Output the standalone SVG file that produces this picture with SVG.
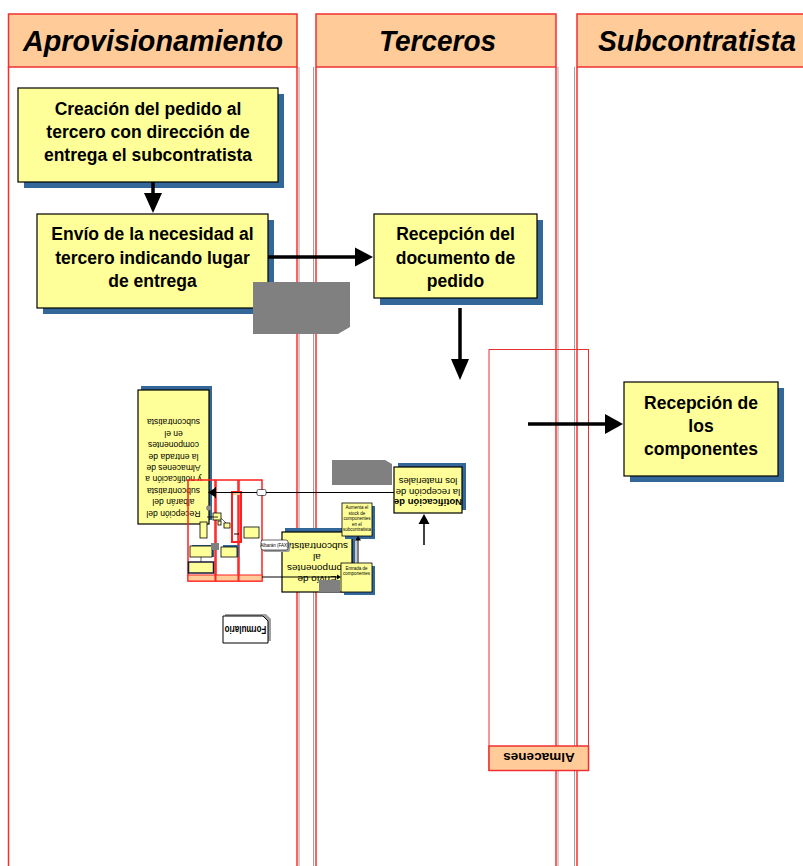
<svg xmlns="http://www.w3.org/2000/svg" width="803" height="866" viewBox="0 0 803 866">
  <style>
    .ln { stroke:#ff2b2b; stroke-width:1.5; fill:none }
    .lsh { stroke:#a0a0a0; stroke-width:1; fill:none }
    .hdr { fill:#ffcc99; stroke:#f03030; stroke-width:1.5 }
    .title { font-family:"Liberation Sans", Arial, sans-serif; font-weight:bold; font-style:italic; font-size:29px; text-anchor:middle; fill:#000 }
    .box { fill:#ffff99; stroke:#000; stroke-width:1.2 }
    .sh { fill:#336699 }
    .t { font-family:"Liberation Sans", Arial, sans-serif; font-weight:bold; font-size:17.5px; text-anchor:middle; fill:#000 }
    .s { font-family:"Liberation Sans", Arial, sans-serif; font-size:9.5px; text-anchor:middle; fill:#000 }
    .tiny { font-family:"Liberation Sans", Arial, sans-serif; font-size:4.5px; text-anchor:middle; fill:#000 }
    .gray { fill:#808080 }
    .mini { fill:none; stroke:#ff2020; stroke-width:1.5 }
    .minihdr { fill:#ffcc99; stroke:#ff2020; stroke-width:1 }
    .sbox { fill:#ffff99; stroke:#000; stroke-width:0.8 }
    .wire { stroke:#000; fill:none }
  </style>

  <!-- swim lanes -->
  <g id="lane-aprovisionamiento">
    <line class="lsh" x1="299" y1="67" x2="299" y2="866"/>
    <line class="ln" x1="8.5" y1="67" x2="8.5" y2="866"/>
    <line class="ln" x1="297" y1="67" x2="297" y2="866"/>
    <rect class="hdr" x="8.5" y="14" width="288.5" height="53"/>
    <text class="title" x="153" y="51" textLength="260" lengthAdjust="spacingAndGlyphs">Aprovisionamiento</text>
  </g>
  <g id="lane-terceros">
    <line class="lsh" x1="313.5" y1="67" x2="313.5" y2="866"/>
    <line class="lsh" x1="558" y1="67" x2="558" y2="866"/>
    <line class="ln" x1="316" y1="67" x2="316" y2="866"/>
    <line class="ln" x1="556" y1="67" x2="556" y2="866"/>
    <rect class="hdr" x="316" y="14" width="240" height="53"/>
    <text class="title" x="437.5" y="51" textLength="117" lengthAdjust="spacingAndGlyphs">Terceros</text>
  </g>
  <g id="lane-subcontratista">
    <line class="lsh" x1="574.5" y1="67" x2="574.5" y2="866"/>
    <line class="ln" x1="577" y1="67" x2="577" y2="866"/>
    <rect class="hdr" x="577" y="14" width="230" height="53"/>
    <text class="title" x="697" y="51" textLength="198" lengthAdjust="spacingAndGlyphs">Subcontratista</text>
  </g>

  <!-- Almacenes lane (flipped) -->
  <g id="lane-almacenes">
    <rect x="489" y="349.5" width="99.5" height="421" fill="none" stroke="#e83030" stroke-width="1"/>
    <rect class="hdr" x="489" y="746" width="99.5" height="24.5" stroke-width="1"/>
    <text transform="translate(539,758) rotate(180)" x="0" y="5" font-family="Liberation Sans, Arial, sans-serif" font-weight="bold" font-size="13.5" text-anchor="middle">Almacenes</text>
  </g>

  <!-- main process boxes -->
  <g id="creacion-pedido">
    <rect class="sh" x="24" y="94" width="260" height="94"/>
    <rect class="box" x="18" y="88" width="260" height="94"/>
    <text class="t" x="148" y="115">Creación del pedido al</text>
    <text class="t" x="148" y="138">tercero con dirección de</text>
    <text class="t" x="148" y="161">entrega el subcontratista</text>
  </g>
  <g id="envio-necesidad">
    <rect class="sh" x="43" y="220" width="231" height="94"/>
    <rect class="box" x="37" y="214" width="231" height="94"/>
    <text class="t" x="152.5" y="240">Envío de la necesidad al</text>
    <text class="t" x="152.5" y="264">tercero indicando lugar</text>
    <text class="t" x="152.5" y="287">de entrega</text>
  </g>
  <g id="recepcion-documento">
    <rect class="sh" x="380" y="220" width="163" height="85"/>
    <rect class="box" x="374" y="214" width="163" height="84"/>
    <text class="t" x="455.5" y="240">Recepción del</text>
    <text class="t" x="455.5" y="264">documento de</text>
    <text class="t" x="455.5" y="287">pedido</text>
  </g>
  <g id="recepcion-componentes">
    <rect class="sh" x="630" y="388" width="154" height="94"/>
    <rect class="box" x="624" y="382" width="154" height="94"/>
    <text class="t" x="701" y="409">Recepción de</text>
    <text class="t" x="701" y="432">los</text>
    <text class="t" x="701" y="455">componentes</text>
  </g>

  <!-- gray placeholder blocks -->
  <g id="bloque-gris-1">
    <polygon class="gray" points="253,282 350,282 350,327 338,334 253,334"/>
  </g>
  <g id="bloque-gris-2">
    <polygon class="gray" points="332,460 385,460 392,464 392,485 332,485"/>
  </g>

  <!-- flipped sub-process boxes -->
  <g id="recepcion-albaran">
    <rect class="sh" x="141" y="386" width="71" height="134"/>
    <rect class="box" x="138" y="390" width="71" height="134"/>
    <g transform="translate(173.5,469) rotate(180) scale(0.9,1)">
      <text class="s" x="0" y="-42">Recepción del</text>
      <text class="s" x="0" y="-30.5">albarán del</text>
      <text class="s" x="0" y="-19">subcontratista</text>
      <text class="s" x="0" y="-7.5">y notificación a</text>
      <text class="s" x="0" y="4">Almacenes de</text>
      <text class="s" x="0" y="15.5">la entrada de</text>
      <text class="s" x="0" y="27">componentes</text>
      <text class="s" x="0" y="38.5">en el</text>
      <text class="s" x="0" y="50">subcontratista</text>
    </g>
  </g>

  <g id="notificacion-recepcion">
    <rect class="sh" x="398" y="463" width="68" height="47"/>
    <rect class="box" x="394" y="467" width="68" height="46"/>
    <g transform="translate(428,490) rotate(180)">
      <text class="s" x="0" y="-9" font-size="8.5" font-weight="bold">Notificación de</text>
      <text class="s" x="0" y="1.5" font-size="8.5">la recepción de</text>
      <text class="s" x="0" y="12" font-size="8.5">los materiales</text>
    </g>
  </g>

  <g id="envio-componentes">
    <rect class="sh" x="285" y="528" width="70" height="60"/>
    <rect class="box" x="282" y="532" width="70" height="60"/>
    <g transform="translate(317,562) rotate(180) scale(1.05,1)">
      <text class="s" x="0" y="-14" font-size="9">Envío de</text>
      <text class="s" x="0" y="-3" font-size="9">componentes</text>
      <text class="s" x="0" y="8" font-size="9">al</text>
      <text class="s" x="0" y="19" font-size="9">subcontratista</text>
    </g>
    <rect class="gray" x="319" y="580" width="21" height="12"/>
  </g>

  <g id="aumenta-stock">
    <rect class="sh" x="345" y="506" width="30" height="33"/>
    <rect class="sbox" x="342" y="503" width="30" height="33"/>
    <text class="tiny" x="357" y="509">Aumenta el</text>
    <text class="tiny" x="357" y="514.5">stock de</text>
    <text class="tiny" x="357" y="520">componentes</text>
    <text class="tiny" x="357" y="525.5">en el</text>
    <text class="tiny" x="357" y="531">subcontratista</text>
  </g>

  <g id="entrada-componentes">
    <rect class="sh" x="344" y="566" width="31" height="29"/>
    <rect class="sbox" x="341" y="563" width="31" height="29"/>
    <text class="tiny" x="356.5" y="570">Entrada de</text>
    <text class="tiny" x="356.5" y="575">componentes</text>
  </g>

  <!-- miniature lane sketch -->
  <g id="esquema-reducido">
    <rect class="mini" x="188" y="480" width="27" height="101"/>
    <rect class="mini" x="216" y="480" width="22" height="101"/>
    <rect class="mini" x="239" y="480" width="23" height="101"/>
    <rect class="minihdr" x="188" y="575" width="27" height="6"/>
    <rect class="minihdr" x="216" y="575" width="22" height="6"/>
    <rect class="minihdr" x="239" y="575" width="23" height="6"/>
    <rect x="232" y="492" width="9" height="50" fill="none" stroke="#ff2020" stroke-width="2"/>
    <rect x="233" y="492" width="7" height="3" fill="#ffcc99"/>
    <line class="wire" x1="234" y1="534" x2="239" y2="534" stroke-width="1"/>
    <rect class="sbox" x="200" y="522" width="7" height="16"/>
    <rect class="sbox" x="213" y="513" width="8" height="7"/>
    <rect class="sbox" x="218" y="521" width="3" height="4"/>
    <rect class="sbox" x="224" y="523" width="6" height="5"/>
    <circle cx="209" cy="508" r="2.5" fill="#909090" stroke="#555" stroke-width="0.5"/>
    <line class="wire" x1="207" y1="517" x2="218" y2="517" stroke-width="0.8"/>
    <line class="wire" x1="221" y1="518" x2="226" y2="523" stroke-width="0.6"/>
    <rect class="sh" x="192" y="545" width="22" height="12"/>
    <rect class="sbox" x="190" y="546" width="22" height="11"/>
    <line class="wire" x1="201" y1="557" x2="201" y2="562" stroke-width="0.6"/>
    <rect x="188.5" y="562" width="25" height="11" fill="#ffff99" stroke="#1a1a3a" stroke-width="1.5"/>
    <rect class="sh" x="223" y="545" width="16" height="12"/>
    <rect class="sbox" x="221" y="547" width="16" height="10"/>
    <rect class="sbox" x="244" y="527" width="15" height="11"/>
    <rect class="gray" x="211" y="543" width="8" height="7"/>
    <rect x="263" y="542" width="27" height="10" rx="2" fill="#a0a0a0"/>
    <rect x="261" y="540" width="27" height="10" rx="2" fill="#fff" stroke="#000" stroke-width="0.6"/>
    <text class="tiny" x="274.5" y="546.5">Albarán (FAX)</text>
  </g>

  <g id="formulario">
    <path d="M225,614 H266 L271,619 V641 H225 Z" fill="#a0a0a0"/>
    <path d="M223,616 H263 L268,621 V643 H223 Z" fill="#fff" stroke="#000" stroke-width="1"/>
    <text transform="translate(245.5,629.5) rotate(180) scale(0.8,1)" x="0" y="3.5" font-family="Liberation Sans, Arial, sans-serif" font-weight="bold" font-size="10" text-anchor="middle">Formulario</text>
  </g>

  <!-- connectors -->
  <g id="connectors">
    <line class="wire" x1="153" y1="182" x2="153" y2="195" stroke-width="3.5"/>
    <polygon points="144,193 162,193 153,213"/>
    <line class="wire" x1="268" y1="257" x2="357" y2="257" stroke-width="3.5"/>
    <polygon points="355,247.5 355,266.5 373,257"/>
    <line class="wire" x1="460" y1="308" x2="460" y2="360" stroke-width="3.5"/>
    <polygon points="451,359 469,359 460,380"/>
    <line class="wire" x1="528" y1="424" x2="607" y2="424" stroke-width="3.5"/>
    <polygon points="605,414 605,434 623,424"/>
    <line class="wire" x1="424" y1="545" x2="424" y2="522" stroke-width="1.5"/>
    <polygon points="418.5,524 429.5,524 424,514"/>
    <line class="wire" x1="394" y1="492.5" x2="214" y2="492.5" stroke-width="1.2"/>
    <polygon points="215,488 215,497 208,492.5"/>
    <line class="wire" x1="215.5" y1="487" x2="215.5" y2="498" stroke-width="1"/>
    <rect x="257" y="489.5" width="9" height="6" rx="1.5" fill="#fff" stroke="#000" stroke-width="0.6"/>
    <line class="wire" x1="262" y1="577" x2="338" y2="577" stroke-width="1"/>
    <polygon points="337,574.5 337,579.5 341,577"/>
    <line x1="356" y1="563" x2="356" y2="539" stroke="#909090" stroke-width="1"/>
    <line class="wire" x1="358" y1="563" x2="358" y2="540" stroke-width="1"/>
    <polygon points="355,540.5 361,540.5 358,536"/>
  </g>
</svg>
